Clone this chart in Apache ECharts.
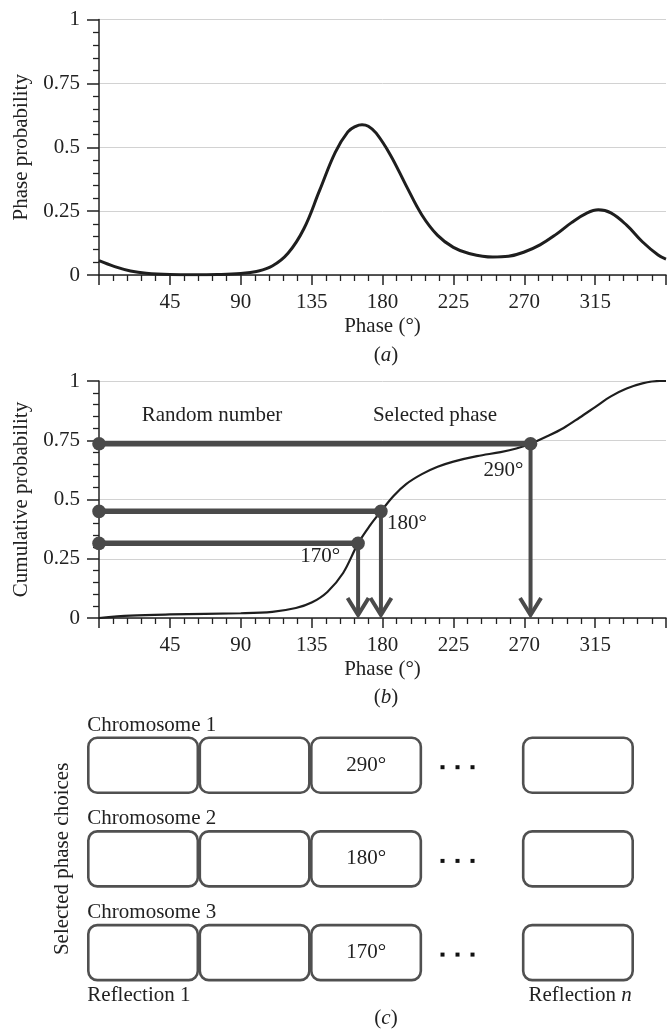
<!DOCTYPE html>
<html><head><meta charset="utf-8">
<script src="https://cdn.jsdelivr.net/npm/echarts/dist/echarts.min.js"></script>
<style>html,body{margin:0;padding:0;background:#fff}#c{width:669px;height:1030px}</style>
</head><body><div id="c"></div>
<script>
// ---- data ----
const densityPhase = [0,10,20,30,45,60,75,90,100,110,120,130,140,150,158,163,167,171,176,185,195,205,215,225,235,250,260,270,280,290,300,310,317,325,335,345,355,360];
const densityValue = [0.056,0.033,0.016,0.007,0.002,0.001,0.002,0.006,0.014,0.035,0.085,0.18,0.33,0.48,0.56,0.582,0.588,0.582,0.555,0.47,0.35,0.235,0.155,0.108,0.084,0.070,0.073,0.090,0.118,0.158,0.205,0.243,0.255,0.243,0.195,0.13,0.078,0.062];
const cumPhase = [0,20,45,90,110,125,135,145,155,164.5,172,179,187,195,205,215,225,240,255,265,274,285,295,305,315,325,335,345,356,360];
const cumValue = [0,0.01,0.015,0.02,0.026,0.042,0.065,0.11,0.19,0.315,0.39,0.45,0.515,0.565,0.607,0.638,0.66,0.683,0.70,0.715,0.735,0.768,0.802,0.845,0.89,0.935,0.968,0.99,1.0,1.0];
const selectedPhase = [164.5, 179, 274];
const randomNumber = [0.315, 0.45, 0.735];
const selectedLabel = ['170°', '180°', '290°'];
const phaseTicks = [0, 45, 90, 135, 180, 225, 270, 315, 360];
const probTicks = [0, 0.25, 0.5, 0.75, 1];
const chromosomes = ['Chromosome 1', 'Chromosome 2', 'Chromosome 3'];
const chromosomePhase = ['290°', '180°', '170°'];
const reflectionCols = [0, 1, 2, 3.9];
const ellipsisCol = 2.82;
const reflectionLabels = ['Reflection 1', 'Reflection {i|n}'];

// ---- styling ----
const FF = '"Liberation Serif", "Times New Roman", serif';
const TXT = '#222';
const DARK = '#4a4a4a';
const font = (s) => s + 'px ' + FF;

function xAxisCfg(gi) {
  return {
    type: 'value', gridIndex: gi, min: phaseTicks[0], max: phaseTicks[phaseTicks.length - 1], interval: phaseTicks[1] - phaseTicks[0],
    axisLine: { show: true, onZero: false, lineStyle: { color: TXT, width: 1.5 } },
    axisTick: { show: true, inside: false, length: 10, lineStyle: { color: TXT, width: 1.5 } },
    minorTick: { show: true, splitNumber: 5, length: 6, lineStyle: { color: TXT, width: 1.3 } },
    axisLabel: { margin: 17, fontFamily: FF, fontSize: 21, color: TXT,
      formatter: v => (v === 0 || v === 360) ? '' : String(v) },
    splitLine: { show: false },
    name: 'Phase (°)', nameLocation: 'middle', nameGap: 41,
    nameTextStyle: { fontFamily: FF, fontSize: 21, color: TXT }
  };
}
function yAxisCfg(gi, name) {
  return {
    type: 'value', gridIndex: gi, min: probTicks[0], max: probTicks[probTicks.length - 1], interval: probTicks[1] - probTicks[0],
    axisLine: { show: true, onZero: false, lineStyle: { color: TXT, width: 1.5 } },
    axisTick: { show: true, inside: false, length: 12, lineStyle: { color: TXT, width: 1.5 } },
    minorTick: { show: true, splitNumber: 5, length: 6, lineStyle: { color: TXT, width: 1.3 } },
    axisLabel: { margin: 19, fontFamily: FF, fontSize: 21, color: TXT },
    splitLine: { show: true, lineStyle: { color: '#d2d2d2', width: 1 } },
    name: name, nameLocation: 'middle', nameGap: 66, nameRotate: 90,
    nameTextStyle: { fontFamily: FF, fontSize: 21, color: TXT }
  };
}

const labelOffsets = [[-38, 13], [26, 12], [-27, 27]];

const boxData = [];
chromosomes.forEach((c, r) => reflectionCols.forEach((col, k) => boxData.push([col, r, k])));
const ellipsisData = chromosomes.map((c, r) => [ellipsisCol, r]);

const chart = echarts.init(document.getElementById('c'), null, { renderer: 'canvas' });
chart.setOption({
  animation: false,
  backgroundColor: '#fff',
  grid: [
    { left: 99, top: 19.5, width: 577, height: 255.5, containLabel: false },
    { left: 99, top: 381, width: 577, height: 237, containLabel: false },
    { left: 87.3, top: 718.35, width: 546.4, height: 281.1, containLabel: false }
  ],
  xAxis: [
    xAxisCfg(0), xAxisCfg(1),
    { type: 'value', gridIndex: 2, min: -0.5, max: 4.4, show: false }
  ],
  yAxis: [
    yAxisCfg(0, 'Phase probability'), yAxisCfg(1, 'Cumulative probability'),
    { type: 'value', gridIndex: 2, min: -0.5, max: 2.5, inverse: true,
      axisLine: { show: false }, axisTick: { show: false }, axisLabel: { show: false }, splitLine: { show: false },
      name: 'Selected phase choices', nameLocation: 'middle', nameGap: 14, nameRotate: 90,
      nameTextStyle: { fontFamily: FF, fontSize: 21, color: TXT } }
  ],
  graphic: [
    { type: 'text', x: 386, y: 355, style: { text: '({i|a})', font: font(21), fill: TXT, align: 'center', verticalAlign: 'middle',
      rich: { i: { fontStyle: 'italic', fontFamily: FF, fontSize: 21, fill: TXT } } } },
    { type: 'text', x: 386, y: 697, style: { text: '({i|b})', font: font(21), fill: TXT, align: 'center', verticalAlign: 'middle',
      rich: { i: { fontStyle: 'italic', fontFamily: FF, fontSize: 21, fill: TXT } } } },
    { type: 'text', x: 386, y: 1018, style: { text: '({i|c})', font: font(21), fill: TXT, align: 'center', verticalAlign: 'middle',
      rich: { i: { fontStyle: 'italic', fontFamily: FF, fontSize: 21, fill: TXT } } } },
    { type: 'text', x: 212, y: 415, style: { text: 'Random number', font: font(21), fill: TXT, align: 'center', verticalAlign: 'middle' } },
    { type: 'text', x: 435, y: 415, style: { text: 'Selected phase', font: font(21), fill: TXT, align: 'center', verticalAlign: 'middle' } }
  ],
  series: [
    { type: 'line', xAxisIndex: 0, yAxisIndex: 0, smooth: 0.4, showSymbol: false, silent: true,
      lineStyle: { color: '#1e1e1e', width: 3 },
      data: densityPhase.map((p, i) => [p, densityValue[i]]) },
    { type: 'line', xAxisIndex: 1, yAxisIndex: 1, smooth: 0.35, showSymbol: false, silent: true,
      lineStyle: { color: '#1e1e1e', width: 2.2 }, z: 3,
      data: cumPhase.map((p, i) => [p, cumValue[i]]) },
    { type: 'custom', xAxisIndex: 1, yAxisIndex: 1, silent: true, clip: false, z: 4,
      data: selectedPhase.map((p, i) => [p, randomNumber[i], i]),
      renderItem: function (params, api) {
        const x = api.value(0), y = api.value(1), i = api.value(2);
        const a = api.coord([0, y]), b = api.coord([x, y]), base = api.coord([x, 0]);
        const tipY = base[1] - 3;
        const off = labelOffsets[i];
        return { type: 'group', children: [
          { type: 'line', shape: { x1: a[0], y1: a[1], x2: b[0], y2: b[1] }, style: { stroke: DARK, lineWidth: 5.5 } },
          { type: 'line', shape: { x1: b[0], y1: b[1], x2: b[0], y2: tipY - 1 }, style: { stroke: DARK, lineWidth: 4 } },
          { type: 'polyline', shape: { points: [[b[0] - 10.5, tipY - 17], [b[0], tipY], [b[0] + 10.5, tipY - 17]] },
            style: { stroke: DARK, lineWidth: 4, fill: null, lineJoin: 'miter' } },
          { type: 'circle', shape: { cx: a[0], cy: a[1], r: 6.8 }, style: { fill: DARK } },
          { type: 'circle', shape: { cx: b[0], cy: b[1], r: 6.8 }, style: { fill: DARK } },
          { type: 'text', x: b[0] + off[0], y: b[1] + off[1], style: { text: selectedLabel[i], font: font(21), fill: TXT, align: 'center', verticalAlign: 'middle' } }
        ] };
      } },
    { type: 'custom', xAxisIndex: 2, yAxisIndex: 2, silent: true, clip: false,
      data: boxData,
      renderItem: function (params, api) {
        const col = api.value(0), r = api.value(1), k = api.value(2);
        const c = api.coord([col, r]);
        const s = api.size([1, 0.587]);
        const left = c[0] - s[0] / 2, top = c[1] - s[1] / 2;
        const children = [
          { type: 'rect', shape: { x: left + 1, y: top, width: s[0] - 2, height: s[1], r: 9 },
            style: { fill: '#fff', stroke: '#505050', lineWidth: 2.6 } }
        ];
        if (k === 2) children.push({ type: 'text', x: c[0], y: c[1], style: { text: chromosomePhase[r], font: font(21), fill: TXT, align: 'center', verticalAlign: 'middle' } });
        if (k === 0) children.push({ type: 'text', x: left, y: top - 12.7, style: { text: chromosomes[r], font: font(21), fill: TXT, align: 'left', verticalAlign: 'middle' } });
        if (r === chromosomes.length - 1 && k === 0)
          children.push({ type: 'text', x: left, y: top + s[1] + 15, style: { text: reflectionLabels[0], font: font(21), fill: TXT, align: 'left', verticalAlign: 'middle' } });
        if (r === chromosomes.length - 1 && k === reflectionCols.length - 1)
          children.push({ type: 'text', x: left + s[0] - 2, y: top + s[1] + 15, style: { text: reflectionLabels[1], font: font(21), fill: TXT, align: 'right', verticalAlign: 'middle',
            rich: { i: { fontStyle: 'italic', fontFamily: FF, fontSize: 21, fill: TXT } } } });
        return { type: 'group', children: children };
      } },
    { type: 'custom', xAxisIndex: 2, yAxisIndex: 2, silent: true, clip: false,
      data: ellipsisData,
      renderItem: function (params, api) {
        const c = api.coord([api.value(0), api.value(1)]);
        return { type: 'group', children: [-15, 0, 15].map(dx => ({
          type: 'rect', shape: { x: c[0] + dx - 2, y: c[1], width: 4, height: 4 }, style: { fill: '#111' } })) };
      } }
  ]
});
</script></body></html>
